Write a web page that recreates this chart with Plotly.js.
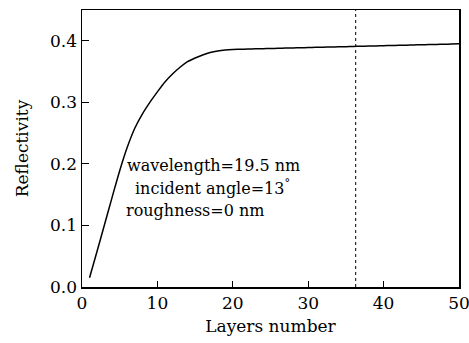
<!DOCTYPE html>
<html><head><meta charset="utf-8">
<script src="https://cdn.plot.ly/plotly-3.0.1.min.js"></script>
<style>body{margin:0;background:#fff}#chart{width:469px;height:343px}</style>
</head><body><div id="chart"></div>
<script>
const layers = [];
for (let i = 1; i <= 50; i++) layers.push(i);
const reflectivity = [
  0.015, 0.058, 0.102, 0.146, 0.189, 0.227, 0.258, 0.281, 0.300, 0.317,
  0.333, 0.346, 0.357, 0.366, 0.372, 0.377, 0.381, 0.3835, 0.385, 0.3858,
  0.3862, 0.3866, 0.3869, 0.3872, 0.3875, 0.3878, 0.3881, 0.3884, 0.3887, 0.3890,
  0.3893, 0.3896, 0.3899, 0.3902, 0.3905, 0.3908, 0.3911, 0.3914, 0.3917, 0.3920,
  0.3923, 0.3926, 0.3929, 0.3932, 0.3935, 0.3938, 0.3941, 0.3944, 0.3947, 0.3950
];
const markerLayer = 36.3;
const xTicks = [0, 10, 20, 30, 40, 50];
const yTicks = [0.0, 0.1, 0.2, 0.3, 0.4];
const yTickText = ['0.0', '0.1', '0.2', '0.3', '0.4'];
const notes = ['wavelength=19.5 nm', 'incident angle=13<sup>°</sup>', 'roughness=0 nm'];
const noteX = [5.7, 6.75, 5.6];
const noteY = [0.197, 0.161, 0.125];

const font = {family: 'DejaVu Serif', size: 17, color: '#000'};
const noteFont = {family: 'DejaVu Serif', size: 16, color: '#000'};
const data = [{
  x: layers, y: reflectivity, type: 'scatter', mode: 'lines',
  line: {color: '#000', width: 1.5, shape: 'spline', smoothing: 0.8}, hoverinfo: 'skip'
}];
const layout = {
  width: 469, height: 343,
  margin: {l: 82, r: 10, t: 10, b: 56},
  paper_bgcolor: '#fff', plot_bgcolor: '#fff',
  font: font, showlegend: false,
  xaxis: {
    range: [0, 50], tickvals: xTicks, ticks: 'inside', ticklen: 6, tickwidth: 1.2,
    tickcolor: '#000', showline: true, mirror: true, linecolor: '#000', linewidth: 1.5,
    showgrid: false, zeroline: false, tickfont: font, ticklabeloverflow: 'allow',
    title: {text: 'Layers number', font: font, standoff: 8}
  },
  yaxis: {
    range: [0, 0.45], tickvals: yTicks, ticktext: yTickText, ticks: 'inside', ticklen: 7, tickwidth: 1.2,
    tickcolor: '#000', showline: true, mirror: true, linecolor: '#000', linewidth: 1.5,
    showgrid: false, zeroline: false, tickfont: font, ticklabeloverflow: 'allow',
    title: {text: 'Reflectivity', font: font, standoff: 17}
  },
  shapes: [{
    type: 'line', xref: 'x', yref: 'paper', x0: markerLayer, x1: markerLayer, y0: 0, y1: 1,
    line: {color: '#000', width: 1, dash: 'dot'}
  }],
  annotations: notes.map((t, i) => ({
    text: t, x: noteX[i], y: noteY[i], xref: 'x', yref: 'y',
    xanchor: 'left', yanchor: 'middle', showarrow: false, font: noteFont
  }))
};
Plotly.newPlot('chart', data, layout, {staticPlot: true, displayModeBar: false});
</script></body></html>
